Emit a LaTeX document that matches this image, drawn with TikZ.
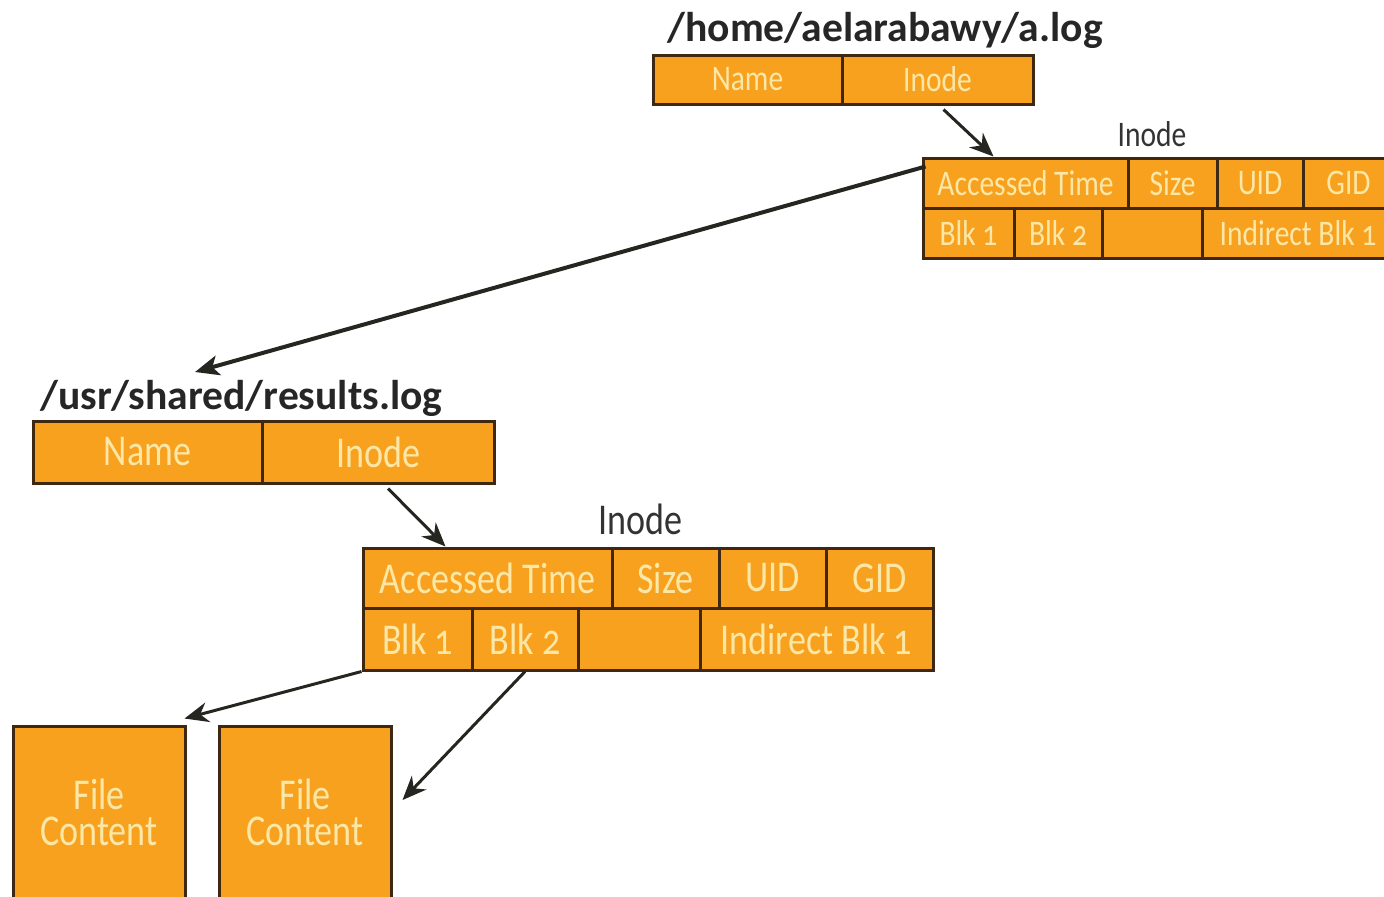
\documentclass[tikz,border=0pt]{standalone}
\usepackage{fontspec}
\setmainfont{Carlito}
\newfontfamily\cellfont[FakeStretch=0.82,Numbers=OldStyle]{Carlito}
\usetikzlibrary{arrows.meta}

\definecolor{boxfill}{HTML}{F7A11E}
\definecolor{boxline}{HTML}{3E2812}
\definecolor{celltext}{HTML}{FCE7A6}
\definecolor{arrowcol}{HTML}{262620}

\tikzset{
  cell/.style={draw=boxline,fill=boxfill,line width=1.5pt,inner sep=0pt,
    text=celltext,font=\cellfont\fontsize{#1}{#1}\selectfont},
  cell/.default=22pt,
  blockbox/.style={cell,minimum width=86pt,minimum height=86pt,align=center,
    font=\cellfont\fontsize{22pt}{18pt}\selectfont},
  title/.style={font=\bfseries\fontsize{20.8pt}{21pt}\selectfont,text=black!85,inner sep=0pt},
  inolabel/.style={font=\cellfont\fontsize{#1}{#1}\selectfont,text=black!80,inner sep=0pt},
  ptr/.style={draw=arrowcol,line width=1.5pt,-{Stealth[length=12pt,width=10pt]}},
  longptr/.style={draw=arrowcol,line width=2pt,-{Stealth[length=12pt,width=10pt,inset=3pt]}}
}

% cell from (x1,y1) to (x2,y2), pixel units
\newcommand{\cell}[7][22pt]{%
  \node[cell=#1,minimum width={(#5-#3)*0.5pt},minimum height={(#6-#4)*0.5pt}]
    (#2) at ({(#3+#5)/2},{(#4+#6)/2}) {#7};}

\begin{document}
\begin{tikzpicture}[x=0.5pt,y=-0.5pt]
    \useasboundingbox (0,0) rectangle (1384,896);

    % first file
    \node[title,anchor=base west] (tTitle) at (667,41) {/home/aelarabawy/a.log};
    \cell[18pt]{tName}{653}{55}{842}{104}{Name}
    \cell[18pt]{tIno}{842}{55}{1033}{104}{Inode}
    \node[inolabel=18pt] (tLab) at (1152,134) {Inode};
    \cell[18pt]{tAT}{923}{158}{1128}{208}{Accessed Time}
    \cell[18pt]{tSize}{1128}{158}{1217}{208}{Size}
    \cell[18pt]{tUID}{1217}{158}{1303}{208}{UID}
    \cell[18pt]{tGID}{1303}{158}{1394}{208}{GID}
    \cell[18pt]{tB1}{923}{208}{1014}{258}{Blk 1}
    \cell[18pt]{tB2}{1014}{208}{1102}{258}{Blk 2}
    \cell[18pt]{tB3}{1102}{208}{1202}{258}{}
    \cell[18pt]{tInd}{1202}{208}{1394}{258}{Indirect Blk 1}

    % second file
    \node[title,anchor=base west] (bTitle) at (40,409) {/usr/shared/results.log};
    \cell{bName}{33}{421}{262}{483}{Name}
    \cell{bIno}{262}{421}{494}{483}{Inode}
    \node[inolabel=22pt] (bLab) at (640,519) {Inode};
    \cell{bAT}{363}{548}{612}{608}{Accessed Time}
    \cell{bSize}{612}{548}{719}{608}{Size}
    \cell{bUID}{719}{548}{826}{608}{UID}
    \cell{bGID}{826}{548}{933}{608}{GID}
    \cell{bB1}{363}{608}{472}{670}{Blk 1}
    \cell{bB2}{472}{608}{578}{670}{Blk 2}
    \cell{bB3}{578}{608}{700}{670}{}
    \cell{bInd}{700}{608}{933}{670}{Indirect Blk 1}

    % data blocks
    \node[blockbox] (f1) at (99,812) {File\\Content};
    \node[blockbox] (f2) at (305,812) {File\\Content};

    \coordinate (bTip) at (195,372);
    \draw[ptr] ([xshift=3pt,yshift=-2pt]tIno.south) -- ([xshift=-16pt]tAT.north);
    \draw[longptr] ([xshift=2pt,yshift=-5pt]tAT.north west) -- (bTip);
    \draw[ptr] ([xshift=5pt,yshift=-2pt]bIno.south) -- ([xshift=-21pt]bAT.north);
    \draw[ptr] (bB1.south west) -- ([xshift=-1pt,yshift=3pt]f1.north east);
    \draw[ptr] (bB2.south) -- ([xshift=5pt,yshift=6pt]f2.east);
\end{tikzpicture}
\end{document}
